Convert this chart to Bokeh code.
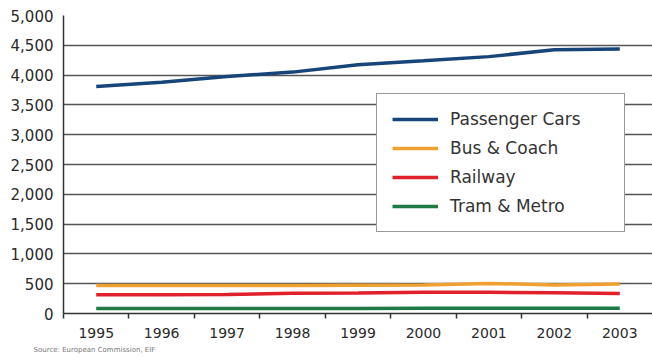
from bokeh.plotting import figure
from bokeh.models import Range1d, FixedTicker, NumeralTickFormatter, Legend, LegendItem, Title
from bokeh.embed import file_html
from bokeh.resources import INLINE

years = [1995, 1996, 1997, 1998, 1999, 2000, 2001, 2002, 2003]
passenger_cars = [3810, 3880, 3975, 4050, 4175, 4240, 4310, 4425, 4440]
bus_coach = [470, 470, 470, 470, 475, 480, 505, 480, 495]
railway = [315, 315, 320, 340, 345, 355, 355, 350, 335]
tram_metro = [85, 85, 85, 85, 85, 88, 90, 90, 90]
y_ticks = [0, 500, 1000, 1500, 2000, 2500, 3000, 3500, 4000, 4500, 5000]
source_text = "Source: European Commission, EIF"

series = [
    ("Passenger Cars", passenger_cars, "#17457a"),
    ("Bus & Coach", bus_coach, "#f0a030"),
    ("Railway", railway, "#e0202a"),
    ("Tram & Metro", tram_metro, "#1e7a45"),
]

p = figure(width=652, height=362, output_backend="svg", toolbar_location=None,
           x_range=Range1d(1994.5, 2003.5), y_range=Range1d(0, 5000),
           min_border_left=63, min_border_right=0, min_border_top=15, min_border_bottom=49)
p.outline_line_color = None
p.background_fill_color = "white"
p.border_fill_color = "white"

renderers = []
for name, vals, col in series:
    r = p.line(years, vals, line_color=col, line_width=3.5)
    renderers.append((name, r))

p.xaxis.ticker = FixedTicker(ticks=years, minor_ticks=[y + 0.5 for y in [1994] + years[:-1]])
p.xaxis.major_tick_line_color = None
p.xaxis.major_tick_out = 0
p.xaxis.major_tick_in = 0
p.xaxis.minor_tick_out = 5
p.xaxis.minor_tick_in = 0
p.xaxis.minor_tick_line_color = "#333333"
p.xaxis.minor_tick_line_width = 1.5
p.xaxis.major_label_standoff = 9
p.xaxis.major_label_text_font = "DejaVu Sans"
p.xaxis.major_label_text_font_size = "14px"
p.xaxis.major_label_text_color = "#2a2a2a"
p.xaxis.axis_line_color = "#333333"
p.xaxis.axis_line_width = 1.5

p.yaxis.ticker = FixedTicker(ticks=y_ticks)
p.yaxis.formatter = NumeralTickFormatter(format="0,0")
p.yaxis.major_tick_line_color = None
p.yaxis.minor_tick_line_color = None
p.yaxis.major_tick_out = 0
p.yaxis.major_label_standoff = 10
p.yaxis.major_label_text_font = "DejaVu Sans"
p.yaxis.major_label_text_font_size = "15px"
p.yaxis.major_label_text_color = "#2a2a2a"
p.yaxis.axis_line_color = "#333333"
p.yaxis.axis_line_width = 1.5

p.xgrid.grid_line_color = None
p.ygrid.ticker = FixedTicker(ticks=y_ticks)
p.ygrid.grid_line_color = "#555555"
p.ygrid.grid_line_width = 1.5

legend = Legend(items=[LegendItem(label=n, renderers=[r]) for n, r in renderers],
                location=(313, 81), orientation="vertical")
legend.label_text_font = "DejaVu Sans"
legend.label_text_font_size = "17px"
legend.label_text_color = "#333333"
legend.glyph_width = 46
legend.glyph_height = 20
legend.label_height = 20
legend.label_width = 159
legend.label_standoff = 12
legend.spacing = 9
legend.padding = 15
legend.margin = 0
legend.border_line_color = "#333333"
legend.border_line_width = 1.5
legend.background_fill_color = "white"
legend.background_fill_alpha = 1.0
p.add_layout(legend, "center")

src = Title(text=source_text, align="left", offset=-30, text_font="DejaVu Sans",
            text_font_size="7px", text_color="#777777", text_font_style="normal", standoff=6)
p.add_layout(src, "below")

open("out.html", "w").write(file_html(p, INLINE))
